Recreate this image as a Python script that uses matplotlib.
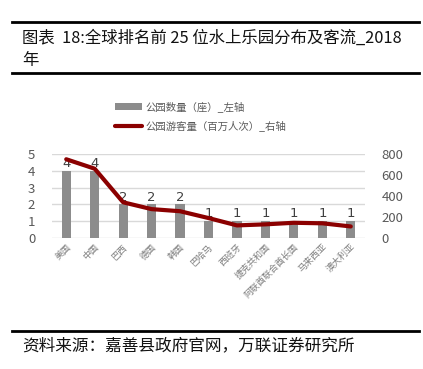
import matplotlib.pyplot as plt
from matplotlib.lines import Line2D

plt.rcParams['font.family'] = ['Noto Sans CJK SC', 'DejaVu Sans']

countries = ['美国', '中国', '巴西', '德国', '韩国', '巴哈马', '西班牙',
             '捷克共和国', '阿联酋联合酋长国', '马来西亚', '澳大利亚']
parks = [4, 4, 2, 2, 2, 1, 1, 1, 1, 1, 1]
visitors = [750, 660, 340, 275, 255, 190, 120, 130, 145, 140, 110]

W, H = 423, 369
fig = plt.figure(figsize=(W / 100, H / 100), dpi=100)
ax = fig.add_axes([52 / W, 1 - 238 / H, 313 / W, 84 / H])
ax2 = ax.twinx()

x = range(len(countries))
ax.bar(x, parks, width=0.32, color='#8c8c8c', label='公园数量（座）_左轴', zorder=2)
for i, v in enumerate(parks):
    ax.text(i, v + 0.05, str(v), ha='center', va='bottom', fontsize=9.5,
            color='#404040', family='DejaVu Sans', zorder=5)
ax2.plot(x, visitors, color='#8b0000', lw=3, label='公园游客量（百万人次）_右轴',
         solid_capstyle='round', zorder=3)

ax.set_xlim(-0.5, len(countries) - 0.5)
ax.set_ylim(0, 5)
ax2.set_ylim(0, 800)
ax.set_yticks(range(6))
ax2.set_yticks(range(0, 801, 200))
ax.yaxis.grid(True, color='#d9d9d9', lw=1, zorder=0)
ax.set_axisbelow(True)
for a in (ax, ax2):
    for s in a.spines.values():
        s.set_visible(False)
    a.tick_params(length=0, labelsize=9.5, labelcolor='#595959')
ax.set_xticks(list(x))
ax.set_xticklabels(countries, rotation=45, ha='right', rotation_mode='anchor',
                   fontsize=6.5, color='#7f7f7f')
ax.tick_params(axis='x', pad=3)
ax.tick_params(axis='y', pad=12)
ax2.tick_params(axis='y', pad=12)

h1, l1 = ax.get_legend_handles_labels()
h2, l2 = ax2.get_legend_handles_labels()
fig.legend(h1 + h2, l1 + l2, loc='upper left', bbox_to_anchor=(106 / W, 1 - 92 / H),
           frameon=False, fontsize=7.5, labelcolor='#595959', handlelength=2.6,
           handletextpad=0.3, labelspacing=0.8)

# header / footer rules
for yy, lw in ((22, 2), (73, 2), (331, 2)):
    fig.add_artist(Line2D([12 / W, 419 / W], [1 - yy / H] * 2, color='black', lw=lw))
fig.text(22 / W, 1 - 38 / H, '图表  18:全球排名前 25 位水上乐园分布及客流_2018',
         fontsize=11.8, va='center', color='#111111')
fig.text(22 / W, 1 - 60 / H, '年', fontsize=11.8, va='center', color='#111111')
fig.text(22 / W, 1 - 346 / H, '资料来源：嘉善县政府官网，万联证券研究所',
         fontsize=12, va='center', color='#111111', style='italic')

fig.savefig('out.png', dpi=100)
